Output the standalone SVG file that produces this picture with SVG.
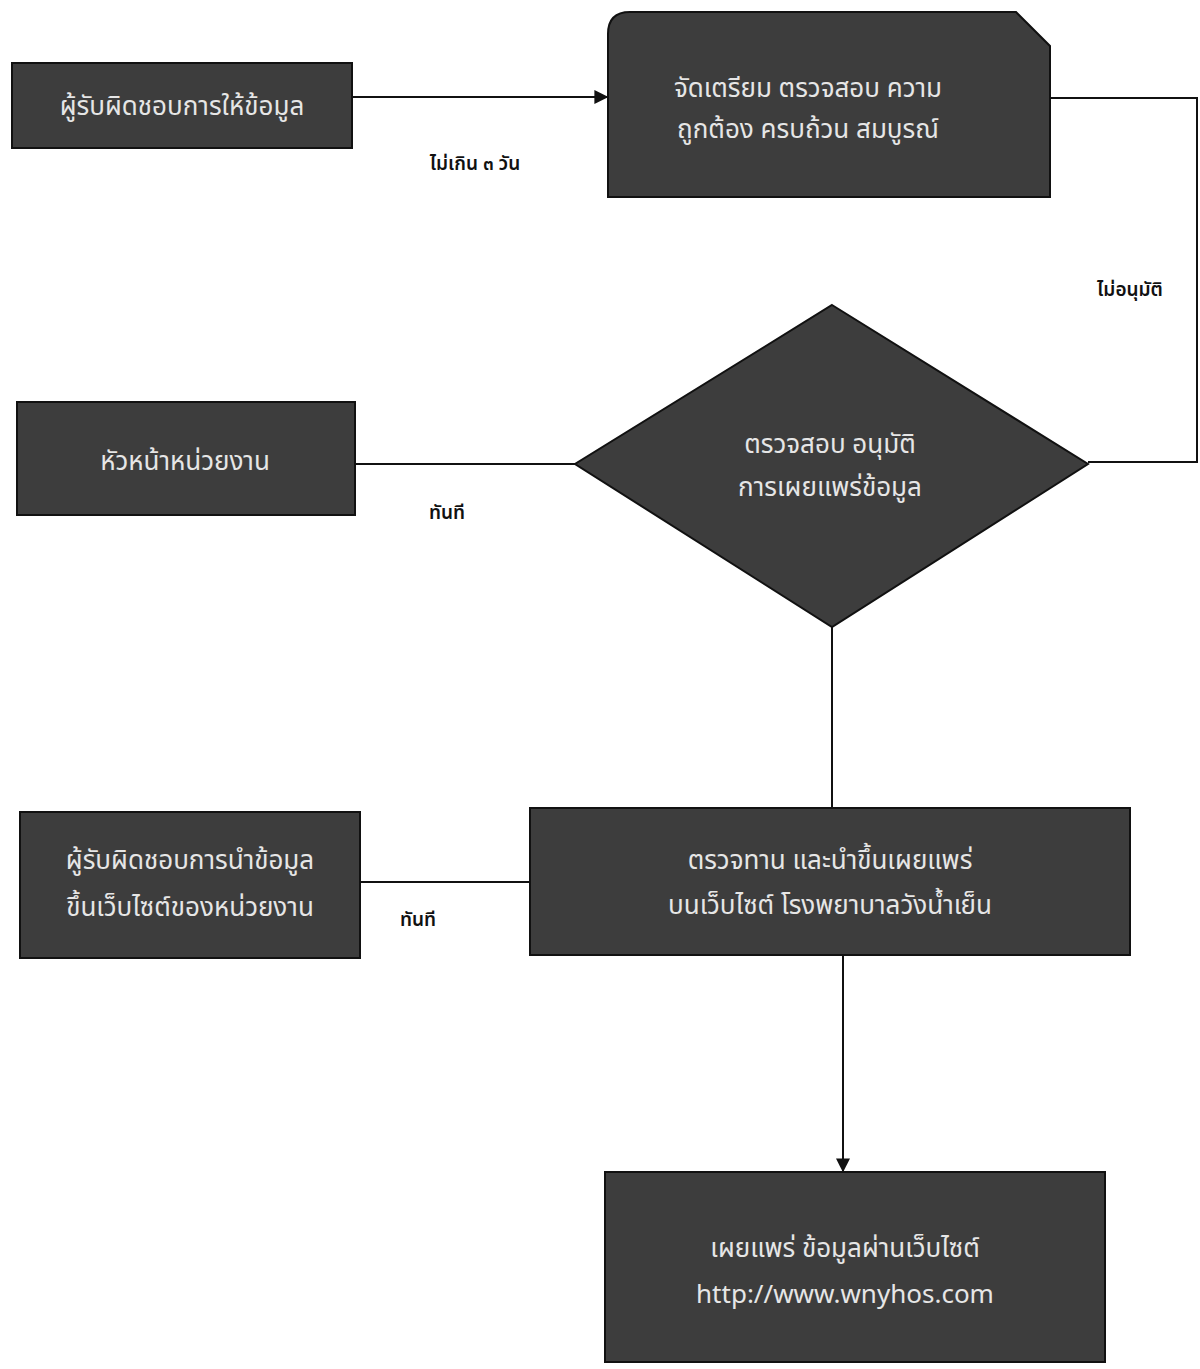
<svg xmlns="http://www.w3.org/2000/svg" width="1200" height="1369" viewBox="0 0 1200 1369">
<style>
.node{fill:#3d3d3d;stroke:#111;stroke-width:2}
.nt{font-family:"Noto Sans Thai","Tahoma","Leelawadee UI","DejaVu Sans",sans-serif;font-size:26px;fill:#e6e6e6;text-anchor:middle}
.lbl{font-family:"Noto Sans Thai","Tahoma","Leelawadee UI","DejaVu Sans",sans-serif;font-size:19px;font-weight:600;fill:#111;text-anchor:middle}
.con{fill:none;stroke:#111;stroke-width:2}
</style>
<defs>
<marker id="arrb" viewBox="0 0 10 10" refX="9" refY="5" markerWidth="14" markerHeight="14" orient="auto" markerUnits="userSpaceOnUse">
<path d="M0,0 L10,5 L0,10 Z" fill="#111"/>
</marker>
</defs>
<rect width="1200" height="1369" fill="#fff"/>
<g id="connectors">
<path class="con" d="M352,97 H607" marker-end="url(#arrb)"/>
<path class="con" d="M1050,98 H1197 V462 H1088"/>
<path class="con" d="M575,464 H355"/>
<path class="con" d="M832,627 V808"/>
<path class="con" d="M530,882 H360"/>
<path class="con" d="M843,955 V1171" marker-end="url(#arrb)"/>
<text class="lbl" x="475" y="170">ไม่เกิน ๓ วัน</text>
<text class="lbl" x="1130" y="296">ไม่อนุมัติ</text>
<text class="lbl" x="447" y="519">ทันที</text>
<text class="lbl" x="418" y="926">ทันที</text>
</g>
<g id="n1">
<rect class="node" x="12" y="63" width="340" height="85"/>
<text class="nt" x="182" y="115">ผู้รับผิดชอบการให้ข้อมูล</text>
</g>
<g id="n2">
<path class="node" d="M608,197 L608,34 Q608,12 630,12 L1016,12 L1050,46 L1050,197 Z"/>
<text class="nt" x="808" y="97">จัดเตรียม ตรวจสอบ ความ</text>
<text class="nt" x="808" y="138">ถูกต้อง ครบถ้วน สมบูรณ์</text>
</g>
<g id="n3">
<path class="node" d="M832,305 L1088,464 L832,627 L575,464 Z"/>
<text class="nt" x="830" y="453">ตรวจสอบ อนุมัติ</text>
<text class="nt" x="830" y="496">การเผยแพร่ข้อมูล</text>
</g>
<g id="n4">
<rect class="node" x="17" y="402" width="338" height="113"/>
<text class="nt" x="185" y="470">หัวหน้าหน่วยงาน</text>
</g>
<g id="n5">
<rect class="node" x="530" y="808" width="600" height="147"/>
<text class="nt" x="830" y="869">ตรวจทาน และนำขึ้นเผยแพร่</text>
<text class="nt" x="830" y="914">บนเว็บไซต์ โรงพยาบาลวังน้ำเย็น</text>
</g>
<g id="n6">
<rect class="node" x="20" y="812" width="340" height="146"/>
<text class="nt" x="190" y="869">ผู้รับผิดชอบการนำข้อมูล</text>
<text class="nt" x="190" y="916">ขึ้นเว็บไซต์ของหน่วยงาน</text>
</g>
<g id="n7">
<rect class="node" x="605" y="1172" width="500" height="190"/>
<text class="nt" x="845" y="1257">เผยแพร่ ข้อมูลผ่านเว็บไซต์</text>
<text class="nt" x="845" y="1303">http://www.wnyhos.com</text>
</g>
</svg>
